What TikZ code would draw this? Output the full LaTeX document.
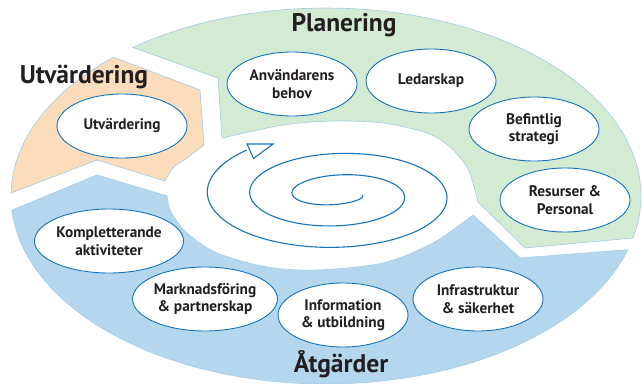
\documentclass[tikz,border=0pt]{standalone}
\usepackage{fontspec}
\setmainfont{PT Sans}
\usetikzlibrary{shapes.geometric}
\definecolor{greenfill}{RGB}{211,234,211}
\definecolor{orangefill}{RGB}{251,221,188}
\definecolor{bluefill}{RGB}{180,215,237}
\definecolor{segline}{RGB}{160,204,232}
\definecolor{itemblue}{RGB}{20,117,190}
\definecolor{textdark}{RGB}{35,31,32}
\begin{document}
\begin{tikzpicture}[x=1pt,y=-1pt,
  seg/.style={draw=segline, line width=0.6pt},
  item/.style={ellipse, draw=itemblue, fill=white, line width=0.9pt,
    minimum width=130pt, minimum height=64pt, inner sep=0pt, align=center,
    font=\fontsize{15.3}{17.5}\selectfont\bfseries, text=textdark},
  title/.style={font=\fontsize{25.5}{28}\selectfont\bfseries, text=textdark},
  spiralline/.style={draw=itemblue, line width=1.1pt}]
\useasboundingbox (0,0) rectangle (642,383);
\fill[white] (0,0) rectangle (642,383);
% Planering segment
\path[seg, fill=greenfill]
  plot[domain=232.2:372.9, samples=90] ({326+315*cos(\x)},{196+188*sin(\x)})
  -- (525,248) -- (478,202)
  -- plot[smooth] coordinates {(478,202) (475,190) (467,167) (450,147) (427,133) (383,123) (333,121) (283,125) (222,138)}
  -- (218,78) -- cycle;
% Utvardering segment
\path[seg, fill=orangefill]
  plot[domain=180.9:227.6, samples=40] ({326+315*cos(\x)},{196+188*sin(\x)})
  -- (200,90) -- (204,145)
  -- plot[smooth] coordinates {(204,145) (187,158) (173,168) (165,181)}
  -- (97,160) -- cycle;
% Atgarder segment
\path[seg, fill=bluefill]
  plot[domain=16.6:175.7, samples=120] ({326+315*cos(\x)},{196+188*sin(\x)})
  -- (97,175) -- (167,196)
  -- plot[smooth] coordinates {(167,196) (171,212) (187,233) (217,253) (267,267) (317,270) (383,263) (433,243) (473,215)}
  -- (520,258) -- cycle;
% spiral
\draw[spiralline] plot[domain=0:948, samples=300, smooth]
  ({337.75+(24+0.1181*\x)*cos(\x)},{195+(3.9+0.0597*\x)*sin(\x)});
\draw[spiralline, fill=white, line join=miter] (247,144) -- (273,144) -- (253.5,158.5) -- cycle;
% titles
\node[title] (tplan) at (344,25) {Planering};
\node[title] (tutv) at (84,77) {Utvärdering};
\node[title] (tatg) at (341,364) {Åtgärder};
% items
\node[item] (utv) at (122,126) {Utvärdering};
\node[item] (anv) at (292,84) {Användarens\\behov};
\node[item] (led) at (431,81) {Ledarskap};
\node[item] (bef) at (534,129) {Befintlig\\strategi};
\node[item] (res) at (565,200) {Resurser \&\\Personal};
\node[item] (komp) at (109,241) {Kompletterande\\aktiviteter};
\node[item] (mark) at (205,299) {Marknadsföring\\\& partnerskap};
\node[item] (info) at (343,315) {Information\\\& utbildning};
\node[item] (infra) at (478,299) {Infrastruktur\\\& säkerhet};
\end{tikzpicture}
\end{document}
